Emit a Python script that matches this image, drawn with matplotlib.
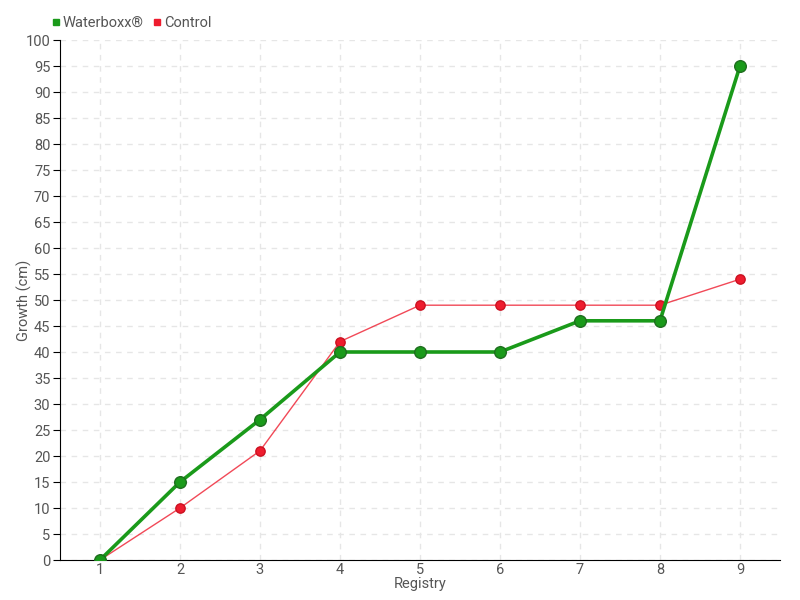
import matplotlib.pyplot as plt
from matplotlib.lines import Line2D

registry = [1, 2, 3, 4, 5, 6, 7, 8, 9]
waterboxx = [0, 15, 27, 40, 40, 40, 46, 46, 95]
control = [0, 10, 21, 42, 49, 49, 49, 49, 54]
y_ticks = list(range(0, 101, 5))

green = '#1a9a1a'
red = '#ee1c2e'
text_col = '#555555'

plt.rcParams['font.family'] = ['Roboto', 'DejaVu Sans']

fig = plt.figure(figsize=(8, 6), dpi=100)
ax = fig.add_axes([60/800, 40/600, 720/800, 520/600])

ax.plot(registry, control, color=red, lw=1, alpha=0.8, zorder=3)
ax.scatter(registry, control, s=45, color=red, edgecolors='#cc1020', zorder=4)
ax.plot(registry, waterboxx, color=green, lw=2.6, zorder=5)
ax.scatter(registry, waterboxx, s=70, color=green, edgecolors='#1e6e1e', linewidths=1, zorder=6)

ax.set_xlim(0.5, 9.5)
ax.set_ylim(0, 100)
ax.set_xticks(registry)
ax.set_yticks(y_ticks)
ax.grid(True, color='#e6e6e6', linestyle=(0, (4, 4)), lw=1)
ax.set_axisbelow(True)

for s in ['top', 'right']:
    ax.spines[s].set_visible(False)
ax.spines['left'].set_color('black')
ax.spines['bottom'].set_color('black')
ax.tick_params(axis='both', colors='black', labelcolor=text_col, labelsize=10.5, length=5, pad=2)
ax.tick_params(axis='x', length=0, pad=2)

ax.set_xlabel('Registry', color=text_col, fontsize=10.5, labelpad=0)
ax.set_ylabel('Growth (cm)', color=text_col, fontsize=10.5)
ax.yaxis.set_label_coords(-28/720, 0.5)

handles = [Line2D([], [], marker='s', ls='', color=green, markersize=5),
           Line2D([], [], marker='s', ls='', color=red, markersize=5)]
fig.legend(handles, ['Waterboxx®', 'Control'], loc='upper left', bbox_to_anchor=(44/800, 1 - 9/600),
           ncol=2, frameon=False, fontsize=10.5, labelcolor=text_col, handlelength=0.6,
           handletextpad=0.2, columnspacing=0.6, borderpad=0)

fig.savefig('out.png')
